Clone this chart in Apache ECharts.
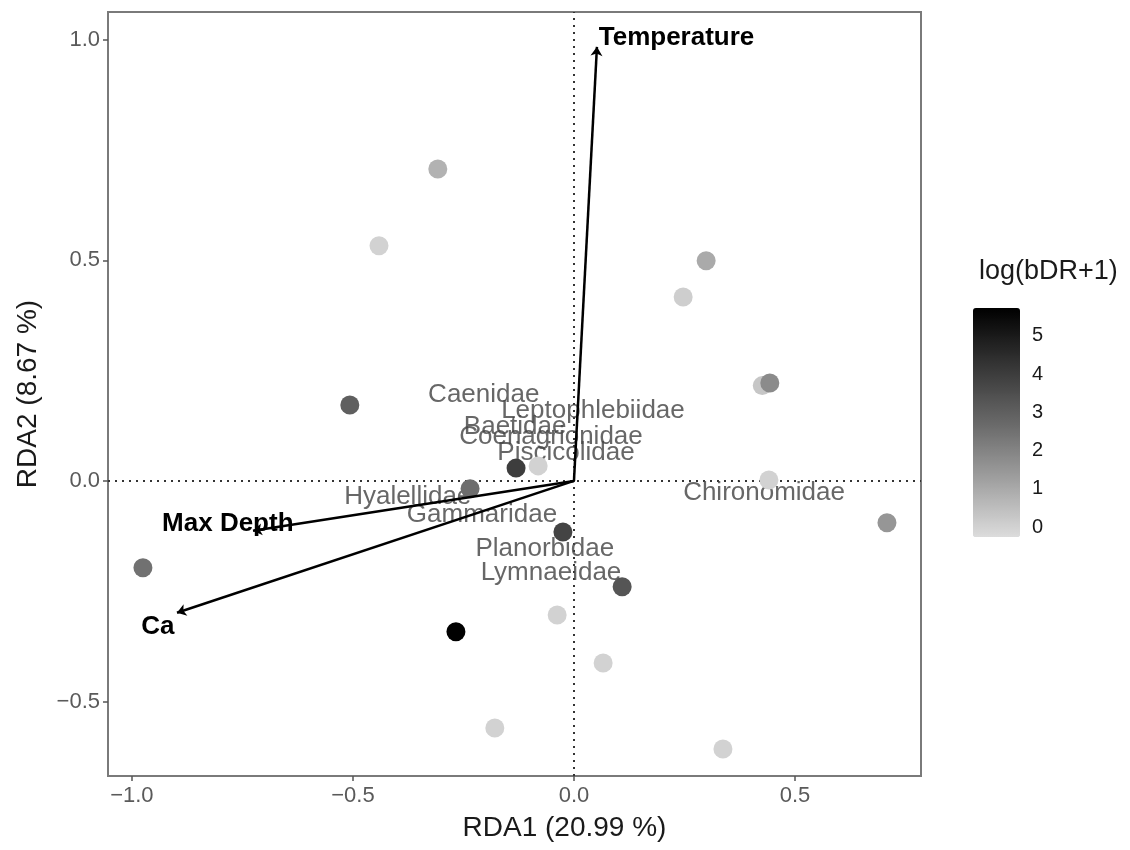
<!DOCTYPE html>
<html>
<head>
<meta charset="utf-8">
<script src="https://cdn.jsdelivr.net/npm/echarts@6/dist/echarts.min.js"></script>
<style>html,body{margin:0;padding:0;background:#fff;}#c{width:1130px;height:850px;}</style>
</head>
<body>
<div id="c"></div>
<script>
// ---- data ----
const siteX = [-0.308, -0.441, 0.299, 0.247, 0.426, 0.443, -0.507, -0.131, -0.081, -0.235, 0.441, 0.708, -0.025, -0.975, 0.109, -0.038, -0.267, 0.066, -0.179, 0.337];
const siteY = [0.707, 0.533, 0.499, 0.417, 0.216, 0.222, 0.172, 0.029, 0.034, -0.018, 0.002, -0.095, -0.116, -0.197, -0.240, -0.304, -0.342, -0.413, -0.560, -0.608];
const siteBDR = [0.8, 0.0, 1.0, 0.1, 0.3, 1.8, 3.0, 4.0, 0.0, 2.6, 0.0, 1.5, 3.8, 2.5, 3.3, 0.0, 5.7, 0.0, 0.0, 0.0];

const speciesNames = ['Caenidae', 'Leptophlebiidae', 'Baetidae', 'Coenagrionidae', 'Piscicolidae', 'Hyalellidae', 'Gammaridae', 'Planorbidae', 'Lymnaeidae', 'Chironomidae'];
const speciesX = [-0.204, 0.043, -0.133, -0.052, -0.018, -0.376, -0.208, -0.066, -0.052, 0.430];
const speciesY = [0.195, 0.159, 0.122, 0.100, 0.063, -0.036, -0.077, -0.154, -0.209, -0.027];

const envNames = ['Temperature', 'Max Depth', 'Ca'];
const envX = [0.052, -0.726, -0.898];
const envY = [0.984, -0.113, -0.299];
const envLabelX = [0.056, -0.783, -0.941];
const envLabelY = [1.005, -0.098, -0.331];
const envLabelAlign = ['left', 'center', 'center'];

const xTicks = [-1.0, -0.5, 0.0, 0.5];
const yTicks = [-0.5, 0.0, 0.5, 1.0];
const legendTicks = [0, 1, 2, 3, 4, 5];
const xRange = [-1.054, 0.785];
const yRange = [-0.669, 1.063];
const colorRange = [-0.26, 5.73];

const FONT = 'Liberation Sans, Arial, Helvetica, sans-serif';
const fmt = v => (v < 0 ? '\u2212' : '') + Math.abs(v).toFixed(1);

const chart = echarts.init(document.getElementById('c'), null, {renderer: 'canvas'});
chart.setOption({
  backgroundColor: '#ffffff',
  animation: false,
  title: {
    text: 'log(bDR+1)', left: 974, top: 253,
    textStyle: {fontFamily: FONT, fontSize: 27, fontWeight: 'normal', color: '#1a1a1a'}
  },
  grid: [
    {left: 108, right: 209, top: 12, bottom: 74, show: true, borderColor: '#7a7a7a', borderWidth: 2, backgroundColor: '#fff'},
    {left: 973, top: 308, width: 47, height: 229, show: false}
  ],
  xAxis: [
    {
      type: 'value', gridIndex: 0, min: xRange[0], max: xRange[1],
      splitLine: {show: false}, axisLine: {show: false, onZero: false},
      axisTick: {show: true, customValues: xTicks, length: 5, lineStyle: {color: '#555', width: 1.5}},
      axisLabel: {customValues: xTicks, formatter: fmt, fontFamily: FONT, fontSize: 22, color: '#5a5a5a', margin: 9},
      name: 'RDA1 (20.99 %)', nameLocation: 'middle', nameGap: 38,
      nameTextStyle: {fontFamily: FONT, fontSize: 28, color: '#1a1a1a', padding: [0, 0, 0, 100]}
    },
    {type: 'value', gridIndex: 1, show: false, min: 0, max: 1}
  ],
  yAxis: [
    {
      type: 'value', gridIndex: 0, min: yRange[0], max: yRange[1],
      splitLine: {show: false}, axisLine: {show: false, onZero: false},
      axisTick: {show: true, customValues: yTicks, length: 5, lineStyle: {color: '#555', width: 1.5}},
      axisLabel: {customValues: yTicks, formatter: fmt, fontFamily: FONT, fontSize: 22, color: '#5a5a5a', margin: 8},
      name: 'RDA2 (8.67 %)', nameLocation: 'middle', nameGap: 66,
      nameTextStyle: {fontFamily: FONT, fontSize: 28, color: '#1a1a1a'}
    },
    {
      type: 'value', gridIndex: 1, min: colorRange[0], max: colorRange[1], position: 'right',
      splitLine: {show: false}, axisLine: {show: false, onZero: false},
      axisTick: {show: true, inside: true, customValues: legendTicks, length: 9, lineStyle: {color: '#fff', width: 1.5}},
      axisLabel: {customValues: legendTicks, fontFamily: FONT, fontSize: 20, color: '#1a1a1a', margin: 12}
    },
    {
      type: 'value', gridIndex: 1, min: colorRange[0], max: colorRange[1], position: 'left',
      splitLine: {show: false}, axisLine: {show: false, onZero: false},
      axisTick: {show: true, inside: true, customValues: legendTicks, length: 9, lineStyle: {color: '#fff', width: 1.5}},
      axisLabel: {show: false}
    }
  ],
  visualMap: {
    type: 'continuous', min: colorRange[0], max: colorRange[1], dimension: 2, seriesIndex: 1,
    left: 973, top: 308, itemWidth: 47, itemHeight: 229, padding: 0,
    calculable: false, hoverLink: false, text: null,
    inRange: {color: ['#dcdcdc', '#a0a0a0', '#686868', '#353535', '#000000']},
    textStyle: {color: 'transparent'}
  },
  series: [
    {
      type: 'scatter', xAxisIndex: 0, yAxisIndex: 0, z: 2, silent: true,
      symbolSize: 0, itemStyle: {opacity: 1},
      data: speciesNames.map((n, i) => ({name: n, value: [speciesX[i], speciesY[i]]})),
      label: {show: true, position: 'inside', formatter: p => p.name, fontFamily: FONT, fontSize: 26, color: 'rgba(70,70,70,0.82)'},
      markLine: {
        silent: true, symbol: 'none', z: 1,
        lineStyle: {type: [2, 5], color: '#333', width: 2, opacity: 1},
        label: {show: false},
        data: [{xAxis: 0}, {yAxis: 0}]
      }
    },
    {
      type: 'scatter', xAxisIndex: 0, yAxisIndex: 0, z: 3, silent: true,
      symbolSize: 19, itemStyle: {opacity: 1},
      data: siteX.map((x, i) => [x, siteY[i], siteBDR[i]])
    },
    {
      type: 'lines', coordinateSystem: 'cartesian2d', xAxisIndex: 0, yAxisIndex: 0, z: 4, silent: true,
      symbol: ['none', 'arrow'], symbolSize: 9,
      lineStyle: {color: '#000', width: 2.5, opacity: 1},
      data: envX.map((x, i) => ({coords: [[0, 0], [x, envY[i]]]}))
    },
    {
      type: 'scatter', xAxisIndex: 0, yAxisIndex: 0, z: 5, silent: true,
      symbolSize: 0, itemStyle: {opacity: 1},
      data: envNames.map((n, i) => ({name: n, value: [envLabelX[i], envLabelY[i]], label: {align: envLabelAlign[i]}})),
      label: {show: true, position: 'inside', formatter: p => p.name, fontFamily: FONT, fontSize: 26, fontWeight: 'bold', color: '#000'}
    }
  ]
});
</script>
</body>
</html>
